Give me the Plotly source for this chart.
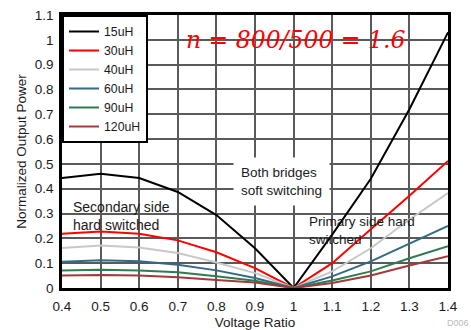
import plotly.graph_objects as go

voltage_ratio = [0.4, 0.5, 0.6, 0.7, 0.8, 0.9, 1.0, 1.1, 1.2, 1.3, 1.4]
p_15uH = [0.443, 0.460, 0.443, 0.387, 0.294, 0.160, 0.0, 0.215, 0.440, 0.720, 1.030]
p_30uH = [0.219, 0.228, 0.219, 0.192, 0.144, 0.080, 0.0, 0.100, 0.237, 0.372, 0.512]
p_40uH = [0.161, 0.171, 0.163, 0.141, 0.103, 0.060, 0.0, 0.067, 0.160, 0.276, 0.383]
p_60uH = [0.106, 0.112, 0.108, 0.094, 0.071, 0.040, 0.0, 0.047, 0.107, 0.180, 0.250]
p_90uH = [0.071, 0.074, 0.071, 0.063, 0.047, 0.029, 0.0, 0.030, 0.067, 0.120, 0.168]
p_120uH = [0.050, 0.052, 0.050, 0.043, 0.032, 0.022, 0.0, 0.020, 0.050, 0.091, 0.128]

series_names = ["15uH", "30uH", "40uH", "60uH", "90uH", "120uH"]
series_values = [p_15uH, p_30uH, p_40uH, p_60uH, p_90uH, p_120uH]
series_colors = ["#000000", "#ff0000", "#c8c8c8", "#336b87", "#2e7d50", "#a33a3a"]

x_ticks = [0.4, 0.5, 0.6, 0.7, 0.8, 0.9, 1.0, 1.1, 1.2, 1.3, 1.4]
x_tick_labels = ["0.4", "0.5", "0.6", "0.7", "0.8", "0.9", "1", "1.1", "1.2", "1.3", "1.4"]
y_ticks = [0, 0.1, 0.2, 0.3, 0.4, 0.5, 0.6, 0.7, 0.8, 0.9, 1.0, 1.1]
y_tick_labels = ["0", "0.1", "0.2", "0.3", "0.4", "0.5", "0.6", "0.7", "0.8", "0.9", "1", "1.1"]

FONT = "Liberation Sans, Arial, sans-serif"
FS = 13.5
TXT = "#1a1a1a"
GRID = "#5a5a5a"

fig = go.Figure()
for name, vals, col in zip(series_names, series_values, series_colors):
    fig.add_trace(go.Scatter(x=voltage_ratio, y=vals, name=name, mode="lines",
                             line=dict(color=col, width=2)))

fig.update_layout(
    width=471, height=330,
    margin=dict(l=62, r=23, t=15, b=42, autoexpand=False),
    paper_bgcolor="white", plot_bgcolor="white",
    font=dict(family=FONT, size=FS, color=TXT),
    showlegend=True,
    legend=dict(x=0, y=1, xanchor="left", yanchor="top", bgcolor="white",
                bordercolor="black", borderwidth=2, font=dict(size=12.3, color=TXT),
                tracegroupgap=0, itemwidth=30),
)
fig.update_xaxes(range=[0.4, 1.4], tickmode="array", tickvals=x_ticks, ticktext=x_tick_labels,
                 showgrid=True, gridcolor=GRID, gridwidth=1.5, automargin=False,
                 showline=True, linecolor="black", linewidth=2.5, mirror=True,
                 ticks="", ticklabelstandoff=4, zeroline=False,
                 title=dict(text="Voltage Ratio", standoff=7, font=dict(size=FS, color=TXT)))
fig.update_yaxes(range=[0, 1.1], tickmode="array", tickvals=y_ticks, ticktext=y_tick_labels,
                 showgrid=True, gridcolor=GRID, gridwidth=1.5, automargin=False,
                 showline=True, linecolor="black", linewidth=2.5, mirror=True,
                 ticks="", ticklabelstandoff=3, zeroline=False,
                 title=dict(text="Normalized Output Power", standoff=6, font=dict(size=FS, color=TXT)))

fig.add_annotation(x=1.004, y=1.0, xref="x", yref="y", text="n = 800/500 = 1.6",
                   showarrow=False, font=dict(family="DejaVu Serif, serif", size=23.5,
                                              color="#ff0000", style="italic"))
fig.add_annotation(x=0.424, y=0.29, xref="x", yref="y", text="Secondary side<br>hard switched",
                   showarrow=False, xanchor="left", yanchor="middle", align="left",
                   font=dict(size=14, color=TXT))
fig.add_annotation(x=1.035, y=0.233, xref="x", yref="y", text="Primary side hard<br>switched",
                   showarrow=False, xanchor="left", yanchor="middle", align="left",
                   font=dict(size=FS, color=TXT))
fig.add_annotation(x=0.9687, y=0.4306, xref="x", yref="y", text="Both bridges<br>soft switching",
                   showarrow=False, xanchor="center", yanchor="middle", align="left",
                   bgcolor="white", borderpad=7,
                   font=dict(size=FS, color=TXT))
fig.add_annotation(x=1.0, y=-0.13, xref="paper", yref="paper", text="D006",
                   showarrow=False, xanchor="left", yanchor="middle", xshift=-3,
                   font=dict(size=9, color="#bbbbbb"))

fig.write_html("out.html", config={"displayModeBar": False},
               post_script="document.body.style.margin='0';document.body.style.padding='0';")
